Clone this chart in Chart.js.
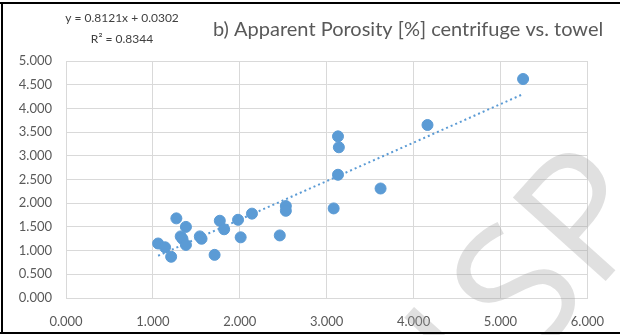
<!DOCTYPE html>
<html>
<head>
<meta charset="utf-8">
<script src="https://cdn.jsdelivr.net/npm/chart.js@4"></script>
<style>
  html, body { margin: 0; padding: 0; background: #ffffff; }
  #wrap { width: 620px; height: 335px; position: relative; }
</style>
</head>
<body>
<div id="wrap"><canvas id="c" width="620" height="335"></canvas></div>
<script>
// Apparent porosity [%]: towel method (x) vs. centrifuge method (y)
const towel      = [1.06, 1.14, 1.21, 1.27, 1.32, 1.34, 1.38, 1.38, 1.54, 1.56, 1.71, 1.77, 1.82, 1.98, 2.01, 2.14, 2.46, 2.53, 2.53, 3.08, 3.13, 3.13, 3.14, 3.62, 4.16, 5.26];
const centrifuge = [1.15, 1.07, 0.87, 1.68, 1.30, 1.25, 1.50, 1.12, 1.30, 1.25, 0.91, 1.63, 1.45, 1.65, 1.28, 1.78, 1.32, 1.94, 1.84, 1.89, 2.60, 3.41, 3.18, 2.31, 3.65, 4.62];

// Linear trend line fitted to the samples
const slope = 0.8121;
const intercept = 0.0302;
const rSquared = 0.8344;

// Axis ranges
const xRange = [0, 6, 1];     // min, max, step
const yRange = [0, 5, 0.5];

const chartTitle = 'b) Apparent Porosity [%] centrifuge vs. towel';
const eqLine1 = 'y = ' + slope.toFixed(4) + 'x + ' + intercept.toFixed(4);
const eqLine2 = 'R\u00B2 = ' + rSquared.toFixed(4);

const points = towel.map((x, i) => ({ x: x, y: centrifuge[i] }));
const xLo = Math.min(...towel), xHi = Math.max(...towel);
const trend = [xLo, xHi].map(x => ({ x: x, y: slope * x + intercept }));

const BLUE = '#5B9BD5';
const TEXT = '#595959';
const GRID = '#D9D9D9';
const FONT = 'Lato, "Open Sans", sans-serif';

const decor = {
  id: 'decor',
  beforeDraw(chart) {
    const ctx = chart.ctx;
    ctx.save();
    ctx.fillStyle = '#ffffff';
    ctx.fillRect(0, 0, chart.width, chart.height);
    ctx.restore();
  },
  afterDraw(chart) {
    const ctx = chart.ctx;
    ctx.save();
    // title
    ctx.fillStyle = TEXT;
    ctx.font = '20px ' + FONT;
    ctx.textAlign = 'left';
    ctx.textBaseline = 'middle';
    ctx.fillText(chartTitle, 213, 30);
    // trend equation
    ctx.fillStyle = '#404040';
    ctx.font = '12px ' + FONT;
    ctx.textAlign = 'center';
    ctx.fillText(eqLine1, 122, 18);
    ctx.fillText(eqLine2, 122, 39);
    // diagonal watermark lettering
    ctx.translate(530, 365);
    ctx.rotate(-48 * Math.PI / 180);
    ctx.font = '400 175px "Open Sans", Lato, sans-serif';
    ctx.fillStyle = 'rgba(160,160,160,0.33)';
    ctx.textAlign = 'left';
    ctx.textBaseline = 'alphabetic';
    ctx.fillText('SP', 0, 0);
    ctx.fillText('I', -66, 0);
    ctx.restore();
    // frame
    ctx.save();
    ctx.strokeStyle = '#000000';
    ctx.lineWidth = 2;
    ctx.beginPath();
    ctx.moveTo(0, 3); ctx.lineTo(chart.width, 3);
    ctx.moveTo(2, 3); ctx.lineTo(2, 333);
    ctx.moveTo(0, 333); ctx.lineTo(chart.width, 333);
    ctx.stroke();
    ctx.restore();
  }
};

new Chart(document.getElementById('c'), {
  type: 'scatter',
  data: {
    datasets: [
      {
        label: 'samples',
        data: points,
        backgroundColor: BLUE,
        borderColor: BLUE,
        pointRadius: 5.5,
        pointHoverRadius: 5.5,
        order: 1
      },
      {
        label: 'trend',
        data: trend,
        showLine: true,
        borderColor: BLUE,
        borderWidth: 2,
        borderDash: [2, 3],
        pointRadius: 0,
        fill: false,
        order: 2
      }
    ]
  },
  options: {
    responsive: false,
    animation: false,
    devicePixelRatio: 1,
    layout: { padding: { left: 0, top: 61, right: 27, bottom: 0 } },
    plugins: {
      legend: { display: false },
      title: { display: false },
      tooltip: { enabled: false }
    },
    scales: {
      x: {
        type: 'linear',
        min: xRange[0], max: xRange[1],
        afterFit(s) { s.height = 37; },
        ticks: {
          stepSize: xRange[2],
          color: TEXT,
          font: { family: FONT, size: 13 },
          padding: 16,
          callback: v => Number(v).toFixed(3)
        },
        grid: { color: GRID, drawTicks: false },
        border: { color: GRID }
      },
      y: {
        type: 'linear',
        min: yRange[0], max: yRange[1],
        afterFit(s) { s.width = 66; },
        ticks: {
          stepSize: yRange[2],
          color: TEXT,
          font: { family: FONT, size: 13 },
          padding: 14,
          callback: v => Number(v).toFixed(3)
        },
        grid: { color: GRID, drawTicks: false },
        border: { color: GRID }
      }
    }
  },
  plugins: [decor]
});
</script>
</body>
</html>
